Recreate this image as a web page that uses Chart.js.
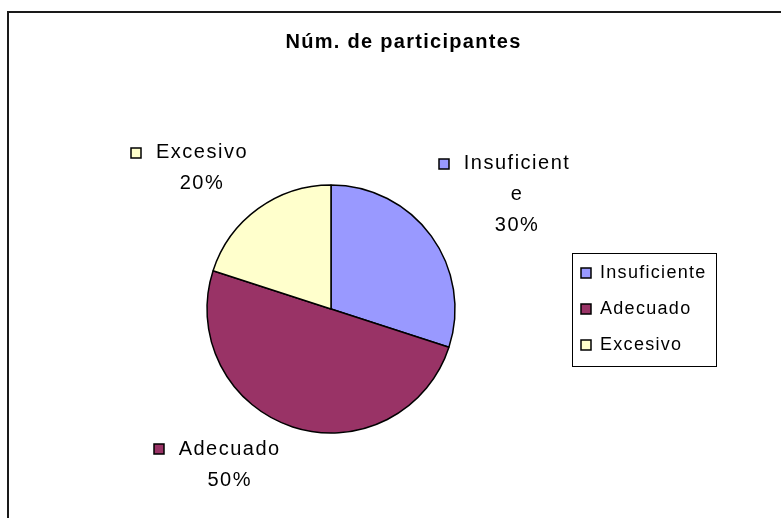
<!DOCTYPE html>
<html>
<head>
<meta charset="utf-8">
<script src="https://cdn.jsdelivr.net/npm/chart.js@4"></script>
<style>
  html, body { margin: 0; padding: 0; background: #fff; }
  #wrap { width: 781px; height: 518px; }
</style>
</head>
<body>
<div id="wrap"><canvas id="chart" width="781" height="518"></canvas></div>
<script>
// Datos del gráfico
const chartTitle = 'Núm. de participantes';
const categories = ['Insuficiente', 'Adecuado', 'Excesivo'];
const percentages = [30, 50, 20];
const sliceColors = ['#9999ff', '#993366', '#ffffcc'];

// Colocación de las etiquetas: giro (grados) respecto al centro del sector y distancia en radios
const labelPlacement = [
    { turn: 4.5, dist: 1.76 },
    { turn: 15, dist: 1.50 },
    { turn: -6.5, dist: 1.54 }
];

const FONT = "'Liberation Sans', Arial, sans-serif";

// Espaciado de letras como en el original (el canvas se reinicia al redimensionar)
const spacingPlugin = {
    id: 'spacing',
    beforeUpdate(chart) { chart.ctx.letterSpacing = '1.3px'; },
    beforeDraw(chart) { chart.ctx.letterSpacing = '1.3px'; }
};

// Fondo blanco y marco (solo arriba e izquierda, como en la captura)
const framePlugin = {
    id: 'frame',
    beforeDraw(chart) {
        const ctx = chart.ctx;
        ctx.save();
        ctx.fillStyle = '#ffffff';
        ctx.fillRect(0, 0, chart.width, chart.height);
        ctx.strokeStyle = '#1a1a1a';
        ctx.lineWidth = 2;
        ctx.beginPath();
        ctx.moveTo(8, chart.height);
        ctx.lineTo(8, 12);
        ctx.lineTo(chart.width, 12);
        ctx.stroke();
        ctx.restore();
    }
};

// Recuadro alrededor de la leyenda
const legendBoxPlugin = {
    id: 'legendBox',
    afterDraw(chart) {
        const hb = chart.legend.legendHitBoxes;
        if (!hb || !hb.length) return;
        const ctx = chart.ctx;
        const left = hb[0].left - 9;
        const top = hb[0].top - 11;
        const right = Math.max(...hb.map(h => h.left + h.width)) + 9;
        const last = hb[hb.length - 1];
        const bottom = last.top + last.height + 12;
        ctx.save();
        ctx.strokeStyle = '#000';
        ctx.lineWidth = 1;
        ctx.strokeRect(Math.round(left) + 0.5, Math.round(top) + 0.5, Math.round(right - left), Math.round(bottom - top));
        ctx.restore();
    }
};

function wrapText(ctx, text, maxWidth) {
    const lines = [];
    let line = '';
    for (const ch of text) {
        if (line && ctx.measureText(line + ch).width > maxWidth) {
            lines.push(line);
            line = ch;
        } else {
            line += ch;
        }
    }
    if (line) lines.push(line);
    return lines;
}

// Etiquetas de datos fuera del círculo, con la clave de color
const dataLabelPlugin = {
    id: 'dataLabels',
    afterDatasetsDraw(chart) {
        const ctx = chart.ctx;
        const meta = chart.getDatasetMeta(0);
        const total = percentages.reduce((a, b) => a + b, 0);
        ctx.save();
        ctx.font = '20px ' + FONT;
        ctx.letterSpacing = '1.5px';
        ctx.textAlign = 'center';
        ctx.textBaseline = 'middle';
        const lineHeight = 31;
        meta.data.forEach((arc, i) => {
            const p = arc.getProps(['x', 'y', 'startAngle', 'endAngle', 'outerRadius'], true);
            const place = labelPlacement[i];
            const a = (p.startAngle + p.endAngle) / 2 + place.turn * Math.PI / 180;
            const cx = p.x + Math.cos(a) * p.outerRadius * place.dist;
            const cy = p.y + Math.sin(a) * p.outerRadius * place.dist;
            const lines = wrapText(ctx, categories[i], 112);
            lines.push(Math.round(percentages[i] / total * 100) + '%');
            const y0 = cy - (lines.length - 1) * lineHeight / 2;
            ctx.fillStyle = '#000';
            lines.forEach((t, k) => ctx.fillText(t, cx, y0 + k * lineHeight));
            const w = ctx.measureText(lines[0]).width;
            const sx = Math.round(cx - w / 2 - 25);
            const sy = Math.round(y0 - 5);
            ctx.fillStyle = sliceColors[i];
            ctx.fillRect(sx, sy, 10, 10);
            ctx.strokeStyle = '#000';
            ctx.lineWidth = 1.5;
            ctx.strokeRect(sx, sy, 10, 10);
        });
        ctx.restore();
    }
};

const ctx = document.getElementById('chart').getContext('2d');
const pieChart = new Chart(ctx, {
    type: 'pie',
    data: {
        labels: categories,
        datasets: [{
            data: percentages,
            backgroundColor: sliceColors,
            borderColor: '#000',
            borderWidth: 1.5
        }]
    },
    options: {
        responsive: false,
        animation: false,
        layout: {
            padding: { top: 10, left: 99, right: 73, bottom: 84.25 }
        },
        plugins: {
            title: {
                display: true,
                text: chartTitle,
                color: '#000',
                font: { family: FONT, size: 20, weight: 'bold' },
                padding: { top: 20, bottom: 130.25 }
            },
            legend: {
                position: 'right',
                fullSize: false,
                maxWidth: 145,
                labels: {
                    color: '#000',
                    font: { family: FONT, size: 18 },
                    boxWidth: 10,
                    boxHeight: 10,
                    padding: 18
                }
            },
            tooltip: { enabled: false }
        }
    },
    plugins: [spacingPlugin, framePlugin, legendBoxPlugin, dataLabelPlugin]
});
</script>
</body>
</html>
